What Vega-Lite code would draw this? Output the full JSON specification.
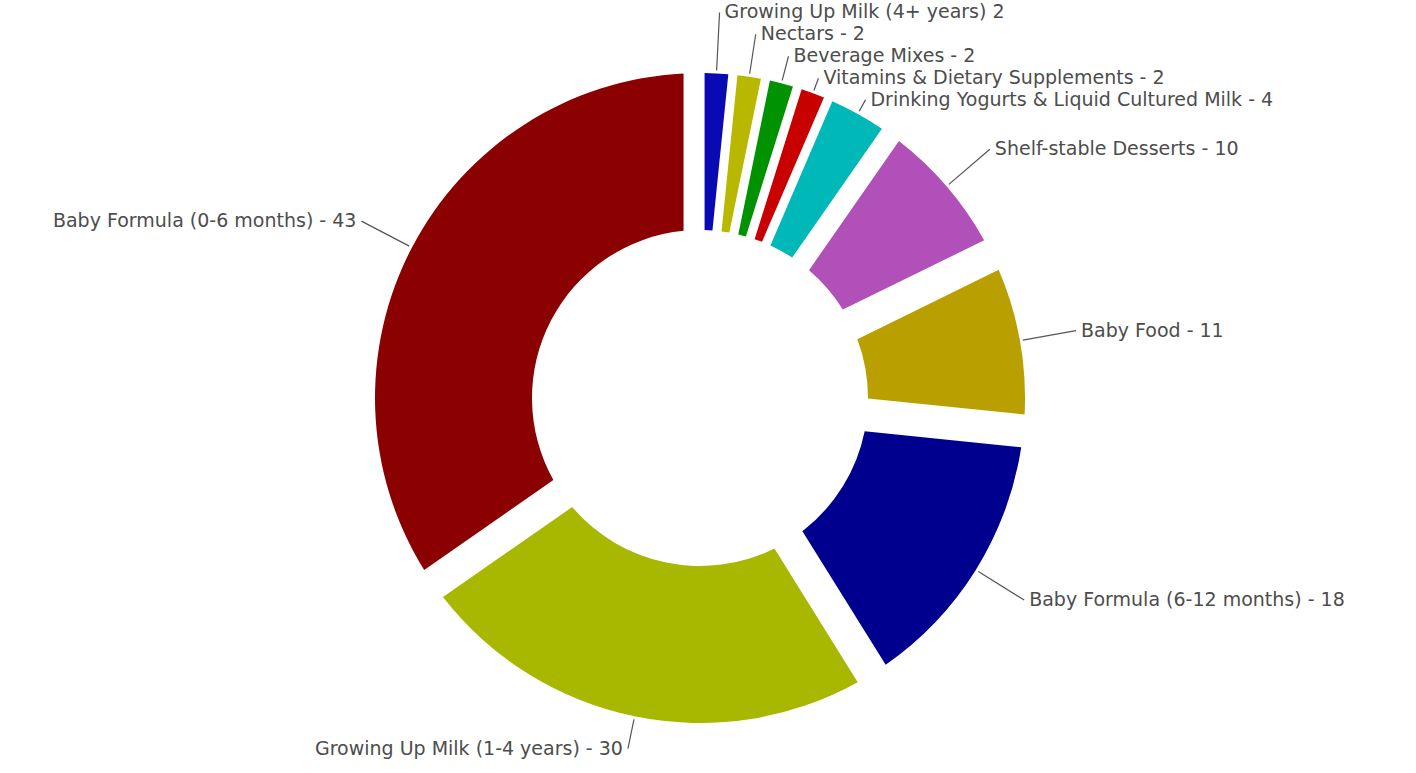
{
  "$schema": "https://vega.github.io/schema/vega-lite/v6.json",
  "width": 1400,
  "height": 750,
  "autosize": {"type": "none"},
  "padding": {"left": 0, "right": 16, "top": 23, "bottom": 0},
  "background": "white",
  "view": {"stroke": null},
  "config": {"text": {"font": "DejaVu Sans", "fontSize": 19, "fill": "#4d4d4d", "baseline": "middle"}},
  "data": {"values": [
    {"category": "Growing Up Milk (4+ years)", "value": 2, "label": "Growing Up Milk (4+ years)   2"},
    {"category": "Nectars", "value": 2, "label": "Nectars - 2"},
    {"category": "Beverage Mixes", "value": 2, "label": "Beverage Mixes - 2"},
    {"category": "Vitamins & Dietary Supplements", "value": 2, "label": "Vitamins &  Dietary Supplements - 2"},
    {"category": "Drinking Yogurts & Liquid Cultured Milk", "value": 4, "label": "Drinking Yogurts & Liquid Cultured Milk - 4"},
    {"category": "Shelf-stable Desserts", "value": 10, "label": "Shelf-stable Desserts - 10"},
    {"category": "Baby Food", "value": 11, "label": "Baby Food - 11"},
    {"category": "Baby Formula (6-12 months)", "value": 18, "label": "Baby Formula (6-12 months) - 18"},
    {"category": "Growing Up Milk (1-4 years)", "value": 30, "label": "Growing Up Milk (1-4 years) - 30"},
    {"category": "Baby Formula (0-6 months)", "value": 43, "label": "Baby Formula (0-6 months) - 43"}
  ]},
  "transform": [{"window": [{"op": "row_number", "as": "idx"}]}],
  "encoding": {
    "theta": {"field": "value", "type": "quantitative", "stack": true},
    "order": {"field": "idx", "type": "quantitative"},
    "detail": {"field": "category", "type": "nominal"}
  },
  "layer": [
    {
      "mark": {"type": "arc", "outerRadius": 325, "innerRadius": 168, "padAngle": 0.09},
      "encoding": {
        "color": {"field": "category", "type": "nominal", "legend": null,
          "scale": {
            "domain": ["Growing Up Milk (4+ years)", "Nectars", "Beverage Mixes", "Vitamins & Dietary Supplements", "Drinking Yogurts & Liquid Cultured Milk", "Shelf-stable Desserts", "Baby Food", "Baby Formula (6-12 months)", "Growing Up Milk (1-4 years)", "Baby Formula (0-6 months)"],
            "range": ["#0a0ab4", "#b8b800", "#009200", "#c80000", "#00b8b8", "#b050b8", "#b9a000", "#00008e", "#a8b800", "#8b0000"]
          }},
        "fillOpacity": {"condition": {"test": "datum.value >= 10", "value": 1}, "value": 0}
      }
    },
    {
      "mark": {"type": "arc", "outerRadius": 325, "innerRadius": 168, "padAngle": 0.025},
      "encoding": {
        "color": {"field": "category", "type": "nominal", "legend": null},
        "fillOpacity": {"condition": {"test": "datum.value < 10", "value": 1}, "value": 0}
      }
    },
    {
      "mark": {"type": "arc", "innerRadius": 328, "outerRadius": 382, "padAngle": 3, "filled": false, "color": "#555555", "strokeWidth": 1.2},
      "encoding": {"strokeOpacity": {"condition": {"test": "datum.value >= 10 && datum.value < 30", "value": 1}, "value": 0}}
    },
    {
      "mark": {"type": "arc", "innerRadius": 328, "outerRadius": 382, "padAngle": 3, "filled": false, "color": "#555555", "strokeWidth": 1.2},
      "encoding": {"strokeOpacity": {"condition": {"test": "datum.category === 'Baby Formula (0-6 months)'", "value": 1}, "value": 0}}
    },
    {
      "mark": {"type": "arc", "innerRadius": 328, "outerRadius": 358, "padAngle": 3, "filled": false, "color": "#555555", "strokeWidth": 1.2},
      "encoding": {"strokeOpacity": {"condition": {"test": "datum.category === 'Growing Up Milk (1-4 years)'", "value": 1}, "value": 0}}
    },
    {
      "mark": {"type": "arc", "innerRadius": 328, "outerRadius": 386, "padAngle": 3, "filled": false, "color": "#555555", "strokeWidth": 1.2},
      "encoding": {"strokeOpacity": {"condition": {"test": "datum.category === 'Growing Up Milk (4+ years)'", "value": 1}, "value": 0}}
    },
    {
      "mark": {"type": "arc", "innerRadius": 328, "outerRadius": 368, "padAngle": 3, "filled": false, "color": "#555555", "strokeWidth": 1.2},
      "encoding": {"strokeOpacity": {"condition": {"test": "datum.category === 'Nectars'", "value": 1}, "value": 0}}
    },
    {
      "mark": {"type": "arc", "innerRadius": 328, "outerRadius": 353, "padAngle": 3, "filled": false, "color": "#555555", "strokeWidth": 1.2},
      "encoding": {"strokeOpacity": {"condition": {"test": "datum.category === 'Beverage Mixes'", "value": 1}, "value": 0}}
    },
    {
      "mark": {"type": "arc", "innerRadius": 328, "outerRadius": 341, "padAngle": 3, "filled": false, "color": "#555555", "strokeWidth": 1.2},
      "encoding": {"strokeOpacity": {"condition": {"test": "datum.category === 'Vitamins & Dietary Supplements'", "value": 1}, "value": 0}}
    },
    {
      "mark": {"type": "arc", "innerRadius": 328, "outerRadius": 341, "padAngle": 3, "filled": false, "color": "#555555", "strokeWidth": 1.2},
      "encoding": {"strokeOpacity": {"condition": {"test": "datum.category === 'Drinking Yogurts & Liquid Cultured Milk'", "value": 1}, "value": 0}}
    },
    {
      "mark": {"type": "text", "radius": 382, "align": "left", "dx": 5},
      "encoding": {"text": {"condition": {"test": "indexof(['Shelf-stable Desserts','Baby Food','Baby Formula (6-12 months)'], datum.category) >= 0", "field": "label"}, "value": ""}}
    },
    {
      "mark": {"type": "text", "radius": 382, "align": "right", "dx": -5},
      "encoding": {"text": {"condition": {"test": "datum.category === 'Baby Formula (0-6 months)'", "field": "label"}, "value": ""}}
    },
    {
      "mark": {"type": "text", "radius": 358, "align": "right", "dx": -5},
      "encoding": {"text": {"condition": {"test": "datum.category === 'Growing Up Milk (1-4 years)'", "field": "label"}, "value": ""}}
    },
    {
      "mark": {"type": "text", "radius": 386, "align": "left", "dx": 5},
      "encoding": {"text": {"condition": {"test": "datum.category === 'Growing Up Milk (4+ years)'", "field": "label"}, "value": ""}}
    },
    {
      "mark": {"type": "text", "radius": 368, "align": "left", "dx": 5},
      "encoding": {"text": {"condition": {"test": "datum.category === 'Nectars'", "field": "label"}, "value": ""}}
    },
    {
      "mark": {"type": "text", "radius": 353, "align": "left", "dx": 5},
      "encoding": {"text": {"condition": {"test": "datum.category === 'Beverage Mixes'", "field": "label"}, "value": ""}}
    },
    {
      "mark": {"type": "text", "radius": 341, "align": "left", "dx": 5},
      "encoding": {"text": {"condition": {"test": "datum.category === 'Vitamins & Dietary Supplements'", "field": "label"}, "value": ""}}
    },
    {
      "mark": {"type": "text", "radius": 341, "align": "left", "dx": 5},
      "encoding": {"text": {"condition": {"test": "datum.category === 'Drinking Yogurts & Liquid Cultured Milk'", "field": "label"}, "value": ""}}
    }
  ]
}
